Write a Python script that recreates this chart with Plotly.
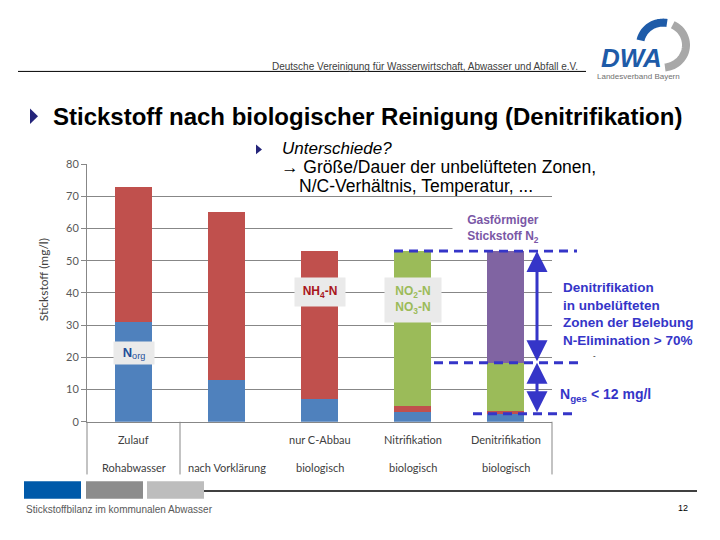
import numpy as np
import plotly.graph_objects as go

# ---------------- data ----------------
categories = ["Zulauf", "nach Vorklärung", "nur C-Abbau", "Nitrifikation", "Denitrifikation"]
cat_line1 = ["Zulauf", "", "nur C-Abbau", "Nitrifikation", "Denitrifikation"]
cat_line2 = ["Rohabwasser", "nach Vorklärung", "biologisch", "biologisch", "biologisch"]
n_org = [31, 13, 7, 3, 2.5]
nh4_n = [42, 52, 46, 1.8, 0.8]
nox_n = [0, 0, 0, 48.2, 15]
n2_gas = [0, 0, 0, 0, 34.7]
y_ticks = [0, 10, 20, 30, 40, 50, 60, 70, 80]

W, H = 720, 540
def px(x):
    return x / W
def py(y):
    return 1 - y / H

FONT_SLIDE = "Liberation Sans, Arial, sans-serif"
FONT_CHART = "Lato, Carlito, Calibri, sans-serif"
BLUE_TXT = "#3535C8"
GRID = "#878787"

xpos = list(range(len(categories)))
fig = go.Figure()
series = [
    ("N org", n_org, "#4F81BD"),
    ("NH4-N", nh4_n, "#C0504D"),
    ("NO2/NO3-N", nox_n, "#9BBB59"),
    ("N2", n2_gas, "#8064A2"),
]
for name, vals, col in series:
    fig.add_trace(go.Bar(x=xpos, y=vals, name=name, width=0.4,
                         marker=dict(color=col, line=dict(width=0)),
                         hoverinfo="y"))

fig.update_layout(
    width=W, height=H, margin=dict(l=0, r=0, t=0, b=0),
    paper_bgcolor="white", plot_bgcolor="white",
    barmode="stack", showlegend=False,
    xaxis=dict(domain=[px(87), px(552)], range=[-0.5, 4.5], showticklabels=False,
               showgrid=False, zeroline=False, showline=True, linecolor=GRID, linewidth=1,
               ticks=""),
    yaxis=dict(domain=[py(425), py(161)], range=[0, 80], tickvals=y_ticks,
               showgrid=True, gridcolor=GRID, gridwidth=1, zeroline=False,
               showline=True, linecolor=GRID, linewidth=1,
               ticks="outside", ticklen=5, tickcolor=GRID,
               tickfont=dict(family=FONT_CHART, size=11, color="#595959")),
)

shapes = []
annotations = []

def ann(**kw):
    kw.setdefault("showarrow", False)
    kw.setdefault("xanchor", "center")
    kw.setdefault("yanchor", "middle")
    annotations.append(kw)

# category axis box lines
for xx in (87, 180, 552):
    shapes.append(dict(type="line", xref="paper", yref="paper", x0=px(xx), x1=px(xx),
                       y0=py(425), y1=py(479), line=dict(color=GRID, width=1)))
for i in xpos:
    ann(x=i, xref="x", y=py(443), yref="paper", text=cat_line1[i],
        font=dict(family=FONT_CHART, size=11, color="#404040"))
    ann(x=i, xref="x", y=py(472), yref="paper", text=cat_line2[i],
        font=dict(family=FONT_CHART, size=11, color="#404040"))

ann(x=px(43), y=py(280), xref="paper", yref="paper", text="Stickstoff (mg/l)",
    textangle=-90, font=dict(family=FONT_CHART, size=12, color="#404040"))

# header
ann(x=px(580), y=py(61), xref="paper", yref="paper", xanchor="right",
    text="Deutsche Vereinigung für Wasserwirtschaft, Abwasser und Abfall e.V.",
    font=dict(family=FONT_SLIDE, size=10, color="#404040"))
shapes.append(dict(type="line", xref="paper", yref="paper", x0=px(18), x1=px(586),
                   y0=py(66), y1=py(66), line=dict(color="black", width=1)))

# logo
cx, cy, r = 663, 39, 23
def arc(a0, a1):
    a = np.radians(np.linspace(a0, a1, 30))
    pts = [(px(cx + r * np.cos(t)), py(cy - r * np.sin(t))) for t in a]
    return "M " + " L ".join(f"{x:.5f},{y:.5f}" for x, y in pts)
shapes.append(dict(type="path", xref="paper", yref="paper", path=arc(168, 80),
                   line=dict(color="#1E5BA8", width=8)))
shapes.append(dict(type="path", xref="paper", yref="paper", path=arc(65, -85),
                   line=dict(color="#A8A8A8", width=8)))
ann(x=px(631), y=py(52), xref="paper", yref="paper", text="<b><i>DWA</i></b>",
    font=dict(family=FONT_SLIDE, size=26, color="#1E5BA8"))
ann(x=px(638), y=py(71), xref="paper", yref="paper", text="Landesverband Bayern",
    font=dict(family=FONT_SLIDE, size=8, color="#707070"))

# title
shapes.append(dict(type="path", xref="paper", yref="paper",
                   path=f"M {px(30)},{py(104)} L {px(38)},{py(112)} L {px(30)},{py(120)} Z",
                   fillcolor="#24247A", line=dict(width=0)))
ann(x=px(51), y=py(112), xref="paper", yref="paper", xanchor="left",
    text="<b>Stickstoff nach biologischer Reinigung (Denitrifikation)</b>",
    font=dict(family=FONT_SLIDE, size=24, color="black"))

# sub bullet box
shapes.append(dict(type="rect", xref="paper", yref="paper", x0=px(249), x1=px(605),
                   y0=py(191), y1=py(135), fillcolor="white", line=dict(width=0), layer="above"))
shapes.append(dict(type="path", xref="paper", yref="paper",
                   path=f"M {px(256)},{py(141)} L {px(262)},{py(146)} L {px(256)},{py(151)} Z",
                   fillcolor="#24247A", line=dict(width=0), layer="above"))
ann(x=px(280), y=py(145), xref="paper", yref="paper", xanchor="left",
    text="<i>Unterschiede?</i>", font=dict(family=FONT_SLIDE, size=17, color="black"))
ann(x=px(279), y=py(164), xref="paper", yref="paper", xanchor="left",
    text="→ Größe/Dauer der unbelüfteten Zonen,",
    font=dict(family=FONT_SLIDE, size=17.5, color="black"))
ann(x=px(297), y=py(183), xref="paper", yref="paper", xanchor="left",
    text="N/C-Verhältnis, Temperatur, ...",
    font=dict(family=FONT_SLIDE, size=17.5, color="black"))

# in-chart labels
ann(x=0, xref="x", y=21.5, yref="y", text="<b>N</b><sub>org</sub>",
    bgcolor="#EAEAEA", width=38, height=20,
    font=dict(family=FONT_SLIDE, size=13, color="#1F4E99"))
ann(x=2, xref="x", y=40.3, yref="y", text="<b>NH<sub>4</sub>-N</b>",
    bgcolor="#EAEAEA", width=48, height=26,
    font=dict(family=FONT_SLIDE, size=12, color="#A8151B"))
ann(x=3, xref="x", y=37.8, yref="y", text="<b>NO<sub>2</sub>-N<br>NO<sub>3</sub>-N</b>",
    bgcolor="#EAEAEA", width=54, height=42,
    font=dict(family=FONT_SLIDE, size=12, color="#9BBB59"))
ann(x=px(503), y=py(227), xref="paper", yref="paper",
    text="<b>Gasförmiger<br>Stickstoff N<sub>2</sub></b>",
    bgcolor="white", width=98, height=38,
    font=dict(family=FONT_SLIDE, size=12, color="#7A57A6"))

# levels for dashed lines
top_level = n_org[4] + nh4_n[4] + nox_n[4] + n2_gas[4]
mid_level = n_org[4] + nh4_n[4] + nox_n[4]
low_level = n_org[4]
dash = dict(color=BLUE_TXT, width=3, dash="9px,6px")
shapes.append(dict(type="line", xref="paper", yref="y", x0=px(394), x1=px(577),
                   y0=top_level, y1=top_level, line=dash, layer="above"))
shapes.append(dict(type="line", xref="paper", yref="y", x0=px(434), x1=px(582),
                   y0=mid_level, y1=mid_level, line=dash, layer="above"))
shapes.append(dict(type="line", xref="paper", yref="y", x0=px(473), x1=px(577),
                   y0=low_level, y1=low_level, line=dash, layer="above"))

for y_a, y_b in ((top_level, mid_level), (mid_level, low_level)):
    annotations.append(dict(x=px(537), xref="paper", y=y_a, yref="y",
                            ax=0, axref="pixel", ay=y_b, ayref="y",
                            showarrow=True, arrowside="end+start", arrowhead=2,
                            arrowsize=1.4, arrowwidth=3, arrowcolor=BLUE_TXT, text=""))

ann(x=px(561), y=py(315), xref="paper", yref="paper", xanchor="left", align="left",
    text="<b>Denitrifikation<br>in unbelüfteten<br>Zonen der Belebung<br>N-Elimination > 70%</b>",
    font=dict(family=FONT_SLIDE, size=13.5, color=BLUE_TXT))
ann(x=px(594), y=py(357), xref="paper", yref="paper", text="-",
    font=dict(family=FONT_SLIDE, size=8, color="black"))
ann(x=px(558), y=py(398), xref="paper", yref="paper", xanchor="left",
    text="<b>N<sub>ges</sub> < 12 mg/l</b>",
    font=dict(family=FONT_SLIDE, size=14, color=BLUE_TXT))

# footer
for x0, x1, col in ((24, 81, "#0059A9"), (86, 143, "#8C8C8C"), (147, 204, "#BDBDBD")):
    shapes.append(dict(type="rect", xref="paper", yref="paper", x0=px(x0), x1=px(x1),
                       y0=py(504), y1=py(486), fillcolor=col, line=dict(width=0)))
shapes.append(dict(type="line", xref="paper", yref="paper", x0=px(204), x1=px(697),
                   y0=py(496), y1=py(496), line=dict(color="black", width=1.5)))
ann(x=px(24), y=py(515), xref="paper", yref="paper", xanchor="left",
    text="Stickstoffbilanz im kommunalen Abwasser",
    font=dict(family=FONT_SLIDE, size=10, color="#595959"))
ann(x=px(690), y=py(513), xref="paper", yref="paper", xanchor="right",
    text="12", font=dict(family=FONT_SLIDE, size=9, color="black"))

fig.update_layout(shapes=shapes, annotations=annotations)
fig.write_html("out.html", config={"displayModeBar": False},
               post_script="document.body.style.margin='0px';document.body.style.overflow='hidden';")
